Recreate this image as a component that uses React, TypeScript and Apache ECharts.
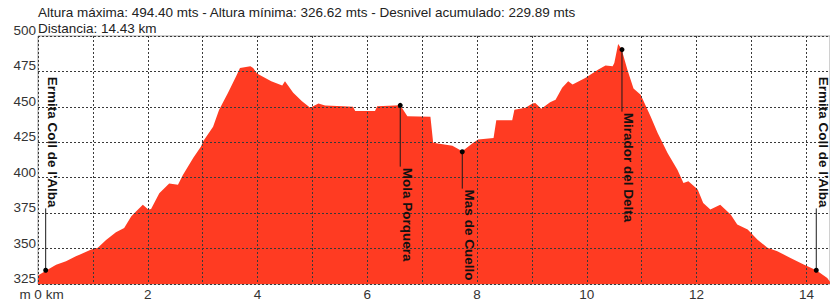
import React, { useEffect, useRef } from 'react';
import * as echarts from 'echarts';

const distanceKm = [
  0.0, 0.15, 0.33, 0.51, 0.69, 0.97, 1.09, 1.24, 1.42, 1.57, 1.7, 1.79, 1.91, 2.01, 2.06, 2.21, 2.39, 2.55, 2.64,
  2.83, 2.97, 3.01, 3.19, 3.3, 3.46, 3.61, 3.68, 3.87, 3.92, 3.99, 4.25, 4.45, 4.5, 4.65, 4.81, 4.96, 5.11, 5.23,
  5.56, 5.74, 5.78, 6.14, 6.18, 6.6, 6.73, 7.15, 7.2, 7.55, 7.73, 7.93, 8.02, 8.3, 8.35, 8.64, 8.68, 8.88, 9.01,
  9.06, 9.17, 9.33, 9.43, 9.55, 9.66, 9.74, 9.97, 10.21, 10.34, 10.47, 10.5, 10.57, 10.63, 10.74, 10.85, 10.98,
  11.16, 11.29, 11.47, 11.65, 11.76, 11.85, 12.02, 12.12, 12.25, 12.43, 12.62, 12.74, 12.93, 13.11, 13.29, 13.47,
  13.71, 13.95, 14.18, 14.38, 14.43,
];
const elevationM = [
  331, 334.5, 338.5, 341, 344.5, 349.3, 350.5, 356, 361.5, 364.6, 372.8, 376.3, 381, 377.5, 378, 389, 396, 395, 402,
  414, 422, 425.7, 436, 448, 459.8, 471.6, 477.5, 478.6, 477.5, 473.5, 468, 465, 468, 460, 454, 449.3, 452.3, 451,
  450.4, 450, 447, 447, 450.4, 451.1, 443.3, 443, 424.6, 422.5, 418.7, 424.6, 427, 428, 440.5, 440.5, 448, 449.3, 452.3,
  452.8, 448.6, 453.2, 455, 463.4, 468, 465.7, 470.4, 476.3, 479.1, 478.6, 481, 494.4, 491, 476, 463, 458.6,
  443.4, 431.6, 417.5, 405.7, 396.3, 397.5, 391.6, 382.2, 377.5, 381, 374, 366.9, 363.4, 356.3, 350.5, 348.1,
  343.4, 338.7, 334.7, 329.3, 326.6,
];

const waypointNames = ["Ermita Coll de l'Alba", 'Mola Porquera', 'Mas de Cuello', 'Mirador del Delta', "Ermita Coll de l'Alba"];
const waypointKm = [0.14, 6.6, 7.73, 10.64, 14.18];
const waypointElev = [334.7, 451.1, 418.3, 490.4, 334.7];
const waypointLabelElev = [471.3, 407.1, 391.6, 445.9, 471.3];

const headerLines = [
  'Altura máxima: 494.40 mts - Altura mínima: 326.62 mts - Desnivel acumulado: 229.89 mts',
  'Distancia: 14.43 km',
];

const yMin = 325;
const yMax = 500;
const yStep = 25;
const xMin = 0;
const xMax = 14.43;
const xStep = 1;
const xLabelEvery = 2;

const FAMILY = '"Liberation Sans", Arial, sans-serif';
const FS = 13.5;
const LABEL_FONT = `bold ${FS}px ${FAMILY}`;

let measureCtx: CanvasRenderingContext2D | null = null;
function measure(text: string, font: string): number {
  if (!measureCtx) measureCtx = document.createElement('canvas').getContext('2d');
  if (!measureCtx) return text.length * 7;
  measureCtx.font = font;
  return measureCtx.measureText(text).width;
}

export default function App() {
  const ref = useRef<HTMLDivElement>(null);
  useEffect(() => {
    if (!ref.current) return;
    const chart = echarts.init(ref.current, undefined, { renderer: 'svg' });
    const profile = distanceKm.map((d, i) => [d, elevationM[i]]);
    const waypoints = waypointKm.map((d, i) => [d, waypointElev[i], waypointLabelElev[i]]);
    chart.setOption({
      animation: false,
      backgroundColor: '#ffffff',
      textStyle: { fontFamily: FAMILY },
      grid: {
        left: 38,
        right: 0,
        top: 36,
        bottom: 20,
        containLabel: false,
        outerBoundsMode: 'none',
        show: true,
        borderColor: '#a0a0a0',
        borderWidth: 1,
        backgroundColor: '#ffffff',
      },
      graphic: [
        { type: 'text', left: 38, top: 5, style: { text: headerLines[0], font: `${FS}px ${FAMILY}`, fill: '#222' } },
        { type: 'text', left: 38, top: 21, style: { text: headerLines[1], font: `${FS}px ${FAMILY}`, fill: '#222' } },
      ],
      xAxis: {
        type: 'value',
        min: xMin,
        max: xMax,
        interval: xStep,
        z: 3,
        axisLine: { show: false },
        axisTick: { show: false },
        splitLine: { show: true, lineStyle: { color: '#3a3a3a', type: [2, 2], width: 1 } },
        axisLabel: {
          showMaxLabel: false,
          margin: 3,
          color: '#333',
          fontSize: FS,
          fontFamily: FAMILY,
          formatter: (v: number) => {
            if (Math.abs(v % xLabelEvery) > 1e-6) return '';
            return v === 0 ? '{z|m 0 km}' : String(v);
          },
          rich: { z: { padding: [0, 0, 0, 7], fontSize: FS, fontFamily: FAMILY, color: '#333' } },
        },
      },
      yAxis: {
        type: 'value',
        min: yMin,
        max: yMax,
        interval: yStep,
        z: 3,
        axisLine: { show: false },
        axisTick: { show: false },
        splitLine: { show: true, lineStyle: { color: '#3a3a3a', type: [2, 2], width: 1 } },
        axisLabel: {
          margin: 2,
          color: '#333',
          fontSize: FS,
          fontFamily: FAMILY,
          verticalAlign: 'bottom',
          lineHeight: 11,
        },
      },
      series: [
        {
          type: 'line',
          data: profile,
          symbol: 'none',
          z: 2,
          lineStyle: { width: 0, color: '#ff3b22' },
          areaStyle: { color: '#ff3b22', opacity: 1 },
        },
        {
          type: 'custom',
          z: 5,
          data: waypoints,
          clip: false,
          renderItem: (params: any, api: any) => {
            const i = params.dataIndex;
            const name = waypointNames[i];
            const p = api.coord([api.value(0), api.value(1)]);
            const lp = api.coord([api.value(0), api.value(2)]);
            const w = measure(name, LABEL_FONT);
            const textTop = lp[1];
            const textBottom = lp[1] + w;
            const lineEnd = textBottom < p[1] ? textBottom + 1 : textTop - 1;
            return {
              type: 'group',
              children: [
                {
                  type: 'line',
                  shape: { x1: p[0], y1: p[1], x2: p[0], y2: lineEnd },
                  style: { stroke: '#1a1a1a', lineWidth: 1 },
                },
                { type: 'circle', shape: { cx: p[0], cy: p[1], r: 2.5 }, style: { fill: '#000' } },
                {
                  type: 'text',
                  x: p[0],
                  y: textTop,
                  rotation: -Math.PI / 2,
                  style: {
                    text: name,
                    font: LABEL_FONT,
                    fill: '#111',
                    align: 'left',
                    verticalAlign: 'bottom',
                  },
                },
              ],
            };
          },
        },
      ],
    });
    return () => chart.dispose();
  }, []);
  return <div ref={ref} style={{ position: 'fixed', left: 0, top: 0, width: 830, height: 304 }} />;
}
